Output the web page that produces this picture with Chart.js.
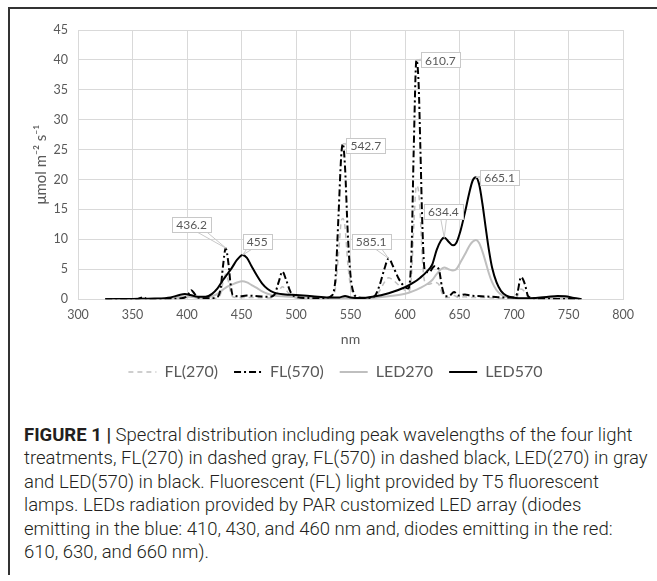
<!DOCTYPE html>
<html lang="en">
<head>
    <meta charset="UTF-8">
    <title>Spectral distribution</title>
    <script src="https://cdn.jsdelivr.net/npm/chart.js@4.4.8/dist/chart.umd.min.js"></script>
    <style>
        body { margin: 0; background: #fff; width: 657px; height: 581px; overflow: hidden; position: relative; }
        #frame { position: absolute; left: 8px; top: 7px; width: 649px; height: 568px;
                 border-top: 2px solid #333; border-left: 2px solid #333; box-sizing: border-box; }
        #chartBox { position: absolute; left: 0; top: 0; width: 657px; height: 390px; }
        #caption { position: absolute; left: 24px; top: 424px; white-space: nowrap;
                   font-family: Roboto, "Liberation Sans", sans-serif; font-weight: 300;
                   font-size: 18.5px; line-height: 23.4px; color: #231f20; }
        #caption b { font-weight: 700; }
    </style>
</head>
<body>
<div id="frame"></div>
<div id="chartBox"><canvas id="spectrum"></canvas></div>
<div id="caption">
    <b>FIGURE 1 |</b> Spectral distribution including peak wavelengths of the four light<br>
    treatments, FL(270) in dashed gray, FL(570) in dashed black, LED(270) in gray<br>
    and LED(570) in black. Fluorescent (FL) light provided by T5 fluorescent<br>
    lamps. LEDs radiation provided by PAR customized LED array (diodes<br>
    emitting in the blue: 410, 430, and 460 nm and, diodes emitting in the red:<br>
    610, 630, and 660 nm).
</div>

<script>
    // fluorescent lamps
    const flWl = [325, 340, 355, 360, 363, 380, 395, 400, 404, 407, 410, 420, 428, 431, 433, 435.5, 438, 440, 442,
        448, 455, 465, 475, 480, 484, 487.5, 491, 495, 500, 510, 525, 532, 536, 539, 541.5, 543, 545, 547.5, 550,
        553, 557, 565, 572, 577, 581, 585, 589, 594, 599, 603, 606, 608, 610.5, 612.5, 614, 616, 618, 622, 627,
        631, 634, 637, 641, 645, 649, 655, 660, 670, 680, 690, 700, 703, 706.5, 710, 713, 720, 740, 760];
    const fl570 = [0, 0, 0.05, 0.35, 0.05, 0.05, 0.15, 0.5, 1.5, 0.9, 0.3, 0.15, 0.4, 2, 5.5, 8.5, 6, 2.5, 0.7,
        0.5, 0.6, 0.5, 0.4, 0.7, 2.8, 4.6, 3.2, 1.2, 0.4, 0.2, 0.15, 0.5, 3, 14, 24, 26, 22, 11, 4,
        1, 0.3, 0.2, 0.5, 2.5, 5, 6.8, 5.5, 3.5, 2.2, 1.8, 8, 25, 40, 36, 26, 12, 5, 4.5, 5.5,
        5, 2, 0.5, 0.6, 1.2, 0.6, 0.8, 0.6, 0.5, 0.4, 0.3, 0.3, 1, 3.7, 2.5, 0.5, 0.1, 0.05, 0];
    const fl270 = [0, 0, 0, 0.15, 0, 0.02, 0.1, 0.3, 0.7, 0.4, 0.15, 0.1, 0.2, 1, 2.8, 4.2, 3, 1.2, 0.4,
        0.25, 0.3, 0.25, 0.2, 0.4, 1.3, 2.1, 1.5, 0.6, 0.2, 0.1, 0.1, 0.3, 1.7, 7.5, 13, 13.5, 12, 6, 2.2,
        0.6, 0.2, 0.1, 0.3, 1.5, 2.8, 3.6, 3.2, 2.4, 1.6, 1.2, 4, 12, 19, 18, 14, 6.5, 3, 2.5, 2.8,
        2.5, 1, 0.3, 0.3, 0.6, 0.3, 0.4, 0.3, 0.3, 0.2, 0.15, 0.15, 0.5, 1.7, 1.2, 0.3, 0.05, 0.03, 0];

    // LED array
    const ledWl = [325, 350, 370, 385, 393, 398, 403, 410, 417, 423, 428, 433, 437, 441, 446, 451, 455, 459, 464,
        469, 474, 480, 490, 500, 515, 530, 540, 545, 550, 560, 570, 585, 600, 608, 614, 620, 625, 629, 633, 636,
        640, 644, 647, 651, 655, 659, 662, 665, 668, 671, 674, 677, 680, 684, 688, 693, 700, 710, 720, 730, 740,
        747, 755, 762];
    const led570 = [0, 0.05, 0.1, 0.3, 0.7, 0.85, 0.7, 0.4, 0.4, 0.9, 1.8, 3.2, 4.2, 5.2, 6.6, 7.4, 6.9, 5.6, 4.0,
        2.6, 1.7, 1.1, 0.8, 0.7, 0.5, 0.3, 0.3, 0.55, 0.3, 0.2, 0.4, 1.0, 2.0, 2.8, 3.6, 4.6, 5.8, 8.2, 9.8, 10.3,
        9.6, 9.0, 9.4, 11.5, 14.5, 17.8, 19.8, 20.4, 19.2, 16, 12, 8.2, 5.2, 2.8, 1.4, 0.6, 0.25, 0.15, 0.2, 0.35, 0.55,
        0.5, 0.2, 0];
    const led270 = [0, 0.02, 0.05, 0.15, 0.35, 0.45, 0.4, 0.25, 0.2, 0.5, 0.9, 1.6, 2.1, 2.4, 2.8, 3.0, 2.8, 2.4, 1.9,
        1.3, 0.9, 0.6, 0.45, 0.35, 0.25, 0.15, 0.15, 0.2, 0.15, 0.1, 0.2, 0.5, 0.9, 1.4, 1.9, 2.5, 3.2, 4.2, 5.0, 5.3,
        5.0, 4.8, 5.0, 6.2, 7.5, 8.9, 9.6, 9.9, 9.4, 8, 6.2, 4.3, 2.8, 1.5, 0.8, 0.35, 0.15, 0.1, 0.1, 0.2, 0.3,
        0.25, 0.1, 0];

    // peak callouts
    const peakLabels = ['436.2', '455', '542.7', '610.7', '585.1', '634.4', '665.1'];
    const peakWl = [436, 451, 543, 610.5, 585, 636, 665];
    const peakVal = [8.5, 7.4, 26, 40, 6.8, 10.3, 20.4];

    const xTicks = { min: 300, max: 800, step: 50 };
    const yTicks = { min: 0, max: 45, step: 5 };

    const toPoints = (wl, vals) => wl.map((w, i) => ({ x: w, y: vals[i] }));

    const gray = '#595959';

    // draws the excel style boxed labels with their leader wedge
    const callouts = {
        id: 'callouts',
        afterLayout(chart, args, opts) {
            // excel centres the legend under the whole figure, not the plot box
            chart.legend.left += opts.legendShift;
            chart.legend.right += opts.legendShift;
        },
        afterDatasetsDraw(chart, args, opts) {
            const ctx = chart.ctx;
            const xs = chart.scales.x, ys = chart.scales.y;
            ctx.save();
            ctx.font = opts.font;
            ctx.lineWidth = 1;
            peakLabels.forEach((txt, i) => {
                const ax = xs.getPixelForValue(peakWl[i]);
                const ay = ys.getPixelForValue(peakVal[i]);
                const bx = xs.getPixelForValue(peakWl[i] + opts.offsets[i][0]);
                const by = ys.getPixelForValue(peakVal[i] + opts.offsets[i][1]);
                const w = Math.round(ctx.measureText(txt).width + 8), h = 15;
                const ang = Math.atan2(ay - by, ax - bx);
                const px = -Math.sin(ang) * 4, py = Math.cos(ang) * 4;
                ctx.strokeStyle = '#c8c8c8';
                ctx.beginPath();
                ctx.moveTo(bx + px, by + py);
                ctx.lineTo(ax, ay);
                ctx.lineTo(bx - px, by - py);
                ctx.stroke();
                const left = Math.round(bx - w / 2) + 0.5, top = Math.round(by - h / 2) + 0.5;
                ctx.fillStyle = '#fff';
                ctx.fillRect(left, top, w, h);
                ctx.strokeRect(left, top, w, h);
                ctx.fillStyle = gray;
                ctx.textAlign = 'center';
                ctx.textBaseline = 'middle';
                ctx.fillText(txt, bx, by + 1);
            });
            ctx.restore();
        }
    };

    const ctx = document.getElementById('spectrum').getContext('2d');
    const chart = new Chart(ctx, {
        type: 'line',
        data: {
            datasets: [{
                label: 'FL(270)',
                data: toPoints(flWl, fl270),
                borderColor: '#bfbfbf',
                borderWidth: 1.5,
                borderDash: [5, 4],
                order: 3
            }, {
                label: 'FL(570)',
                data: toPoints(flWl, fl570),
                borderColor: '#000',
                borderWidth: 2,
                borderDash: [7, 3, 2, 3],
                order: 1
            }, {
                label: 'LED270',
                data: toPoints(ledWl, led270),
                borderColor: '#bfbfbf',
                borderWidth: 2,
                order: 2
            }, {
                label: 'LED570',
                data: toPoints(ledWl, led570),
                borderColor: '#000',
                borderWidth: 2,
                order: 0
            }]
        },
        options: {
            responsive: true,
            maintainAspectRatio: false,
            animation: false,
            elements: {
                point: { radius: 0 },
                line: { cubicInterpolationMode: 'monotone', fill: false }
            },
            layout: { padding: { left: 0, right: 34, top: 30, bottom: 0 } },
            scales: {
                x: {
                    type: 'linear',
                    min: xTicks.min,
                    max: xTicks.max,
                    ticks: { stepSize: xTicks.step, color: gray, padding: 8, font: { family: 'Lato', size: 12.5 } },
                    grid: { color: '#d9d9d9', drawTicks: false },
                    border: { color: '#d9d9d9' },
                    title: { display: true, text: 'nm', color: gray, font: { family: 'Lato', size: 14 }, padding: { top: 1, bottom: 0 } }
                },
                y: {
                    min: yTicks.min,
                    max: yTicks.max,
                    ticks: { stepSize: yTicks.step, color: gray, padding: 10, font: { family: 'Lato', size: 12.5 } },
                    grid: { color: '#d9d9d9', drawTicks: false },
                    border: { display: false },
                    title: { display: true, text: 'μmol m⁻² s⁻¹', color: gray, font: { family: 'Lato', size: 15 }, padding: { top: 32 } },
                    afterFit: (scale) => { scale.width = 78; }
                }
            },
            plugins: {
                legend: {
                    position: 'bottom',
                    labels: {
                        usePointStyle: true,
                        pointStyle: 'line',
                        pointStyleWidth: 28,
                        color: gray,
                        padding: 16,
                        font: { family: 'Lato', size: 16 },
                        sort: (a, b) => a.datasetIndex - b.datasetIndex,
                        generateLabels: (c) => {
                            const items = Chart.defaults.plugins.legend.labels.generateLabels(c);
                            items.forEach((it) => {
                                const ds = c.data.datasets[it.datasetIndex];
                                it.lineDash = ds.borderDash || [];
                                it.lineWidth = ds.borderWidth;
                                it.strokeStyle = ds.borderColor;
                            });
                            return items;
                        }
                    }
                },
                tooltip: { enabled: false },
                callouts: {
                    font: '12px Lato',
                    legendShift: 24,
                    offsets: [[-31.8, 4.0], [13.4, 2.25], [21, -0.3], [22, 0], [-16, 2.9], [-0.8, 4.4], [21.7, 0]]
                }
            }
        },
        plugins: [callouts]
    });
</script>
</body>
</html>
